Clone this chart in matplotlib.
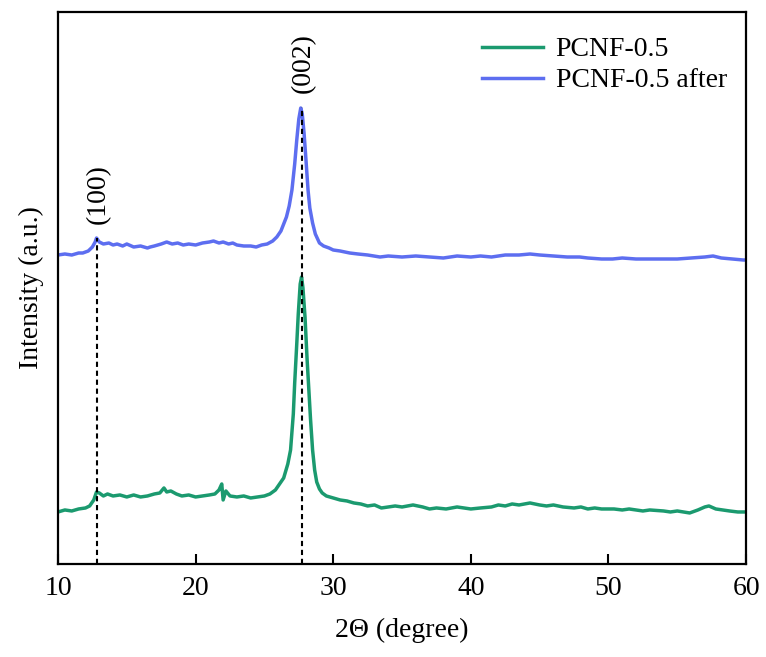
import matplotlib
matplotlib.use("Agg")
import matplotlib.pyplot as plt

plt.rcParams['font.family'] = ['Liberation Serif', 'DejaVu Serif']

# PCNF-0.5 (arbitrary units)
green_x = [10.0, 10.5, 11.0, 11.5, 12.0, 12.3, 12.6, 12.8, 13.0, 13.3, 13.6, 14.0, 14.5, 15.0,
           15.5, 16.0, 16.5, 17.0, 17.4, 17.7, 17.9, 18.2, 18.6, 19.0, 19.5, 20.0, 20.5, 21.0,
           21.4, 21.7, 21.9, 22.0, 22.2, 22.5, 23.0, 23.5, 24.0, 24.5, 25.0, 25.4, 25.8, 26.1,
           26.4, 26.7, 26.9, 27.1, 27.2, 27.35, 27.46, 27.6, 27.7, 27.8, 27.95, 28.1, 28.2,
           28.35, 28.5, 28.65, 28.8, 29.0, 29.2, 29.5, 30.0, 30.5, 31.0, 31.5, 32.0, 32.5,
           33.0, 33.5, 34.0, 34.5, 35.0, 35.8, 36.5, 37.0, 37.5, 38.2, 39.0, 39.5, 40.0, 40.7,
           41.5, 42.0, 42.5, 43.0, 43.5, 44.3, 45.0, 45.5, 46.0, 46.7, 47.5, 48.0, 48.5, 49.0,
           49.5, 50.4, 51.0, 51.5, 52.0, 52.5, 53.0, 54.0, 54.5, 55.0, 55.9, 56.5, 57.0, 57.3,
           57.8, 58.3, 58.8, 59.4, 60.0]
green_y = [52, 54, 53, 55, 56, 58, 64, 72, 71, 68, 70, 68, 69, 67,
           69, 67, 68, 70, 71, 76, 72, 73, 70, 68, 69, 67, 68, 69,
           70, 74, 80, 64, 73, 68, 67, 68, 66, 67, 68, 70, 74, 80,
           86, 100, 114, 150, 181, 220, 250, 280, 287, 276, 247, 205, 181,
           145, 114, 94, 82, 75, 71, 68, 66, 64, 63, 61, 60, 58,
           59, 56, 57, 58, 57, 59, 57, 55, 56, 55, 57, 56, 55, 56,
           57, 59, 58, 60, 59, 61, 59, 58, 59, 57, 56, 57, 55, 56,
           55, 55, 54, 55, 54, 53, 54, 53, 52, 53, 51, 54, 57, 58,
           55, 54, 53, 52, 52]

# PCNF-0.5 after
blue_x = [10.0, 10.5, 11.0, 11.5, 11.8, 12.2, 12.5, 12.7, 12.8, 13.0, 13.3, 13.7, 14.0, 14.3,
          14.7, 15.0, 15.5, 16.0, 16.5, 16.7, 17.0, 17.5, 17.9, 18.3, 18.7, 19.1, 19.5, 20.0,
          20.5, 21.0, 21.3, 21.7, 22.0, 22.4, 22.7, 23.0, 23.5, 24.0, 24.4, 24.8, 25.2, 25.6,
          25.9, 26.2, 26.6, 26.8, 27.0, 27.2, 27.35, 27.5, 27.64, 27.75, 27.88, 28.0, 28.17,
          28.3, 28.5, 28.7, 29.0, 29.3, 29.7, 30.0, 30.5, 31.2, 31.8, 32.5, 33.4, 34.0, 35.0,
          36.0, 37.0, 38.0, 39.0, 40.0, 40.7, 41.5, 42.5, 43.5, 44.3, 45.0, 46.0, 47.0, 47.9,
          48.5, 49.5, 50.3, 51.0, 52.0, 53.0, 54.0, 55.0, 56.0, 57.0, 57.6, 58.2, 59.0, 59.8,
          60.0]
blue_y = [309, 310, 309, 311, 311, 313, 317, 322, 326, 322, 320, 321, 319, 320,
          318, 320, 317, 318, 316, 317, 318, 320, 322, 320, 321, 319, 320, 319,
          321, 322, 323, 321, 322, 320, 321, 319, 318, 318, 317, 319, 320, 323,
          327, 333, 347, 358, 374, 400, 424, 445, 456, 450, 431, 408, 374,
          356, 341, 330, 321, 318, 316, 314, 313, 311, 310, 309, 307, 308, 307,
          308, 307, 306, 308, 307, 308, 307, 309, 309, 310, 309, 308, 307, 307,
          306, 305, 305, 306, 305, 305, 305, 305, 306, 307, 308, 306, 305, 304,
          304]

peaks = [12.8, 27.7]
peak_tops = [326, 457]
peak_labels = ["(100)", "(002)"]

fig = plt.figure(figsize=(7.66, 6.57), dpi=100)
ax = fig.add_axes([0.0757, 0.1416, 0.8983, 0.8401])

ax.plot(green_x, green_y, color='#1b9a6f', lw=2.5, label='PCNF-0.5')
ax.plot(blue_x, blue_y, color='#5d6ef0', lw=2.5, label='PCNF-0.5 after')

for px, top, lab in zip(peaks, peak_tops, peak_labels):
    ax.plot([px, px], [0, top], color='black', lw=1.5, ls=(0, (2.5, 1.8)))
    ax.text(px + 0.15, top + 14, lab, rotation=90, ha='center', va='bottom', fontsize=20)

ax.set_xlim(10, 60)
ax.set_ylim(0, 552)
ax.set_xticks([10, 20, 30, 40, 50, 60])
ax.set_yticks([])
ax.tick_params(axis='x', direction='in', length=7, width=1.5, labelsize=20, pad=9)
for s in ax.spines.values():
    s.set_linewidth(1.6)

ax.set_xlabel("2Θ (degree)", fontsize=20, labelpad=12)
ax.set_ylabel("Intensity (a.u.)", fontsize=20, labelpad=10)

ax.legend(loc='upper left', bbox_to_anchor=(0.60, 0.975), frameon=False, fontsize=20,
          handlelength=2.2, handletextpad=0.45, labelspacing=0.2, borderaxespad=0)

plt.savefig("out.png", dpi=100)
